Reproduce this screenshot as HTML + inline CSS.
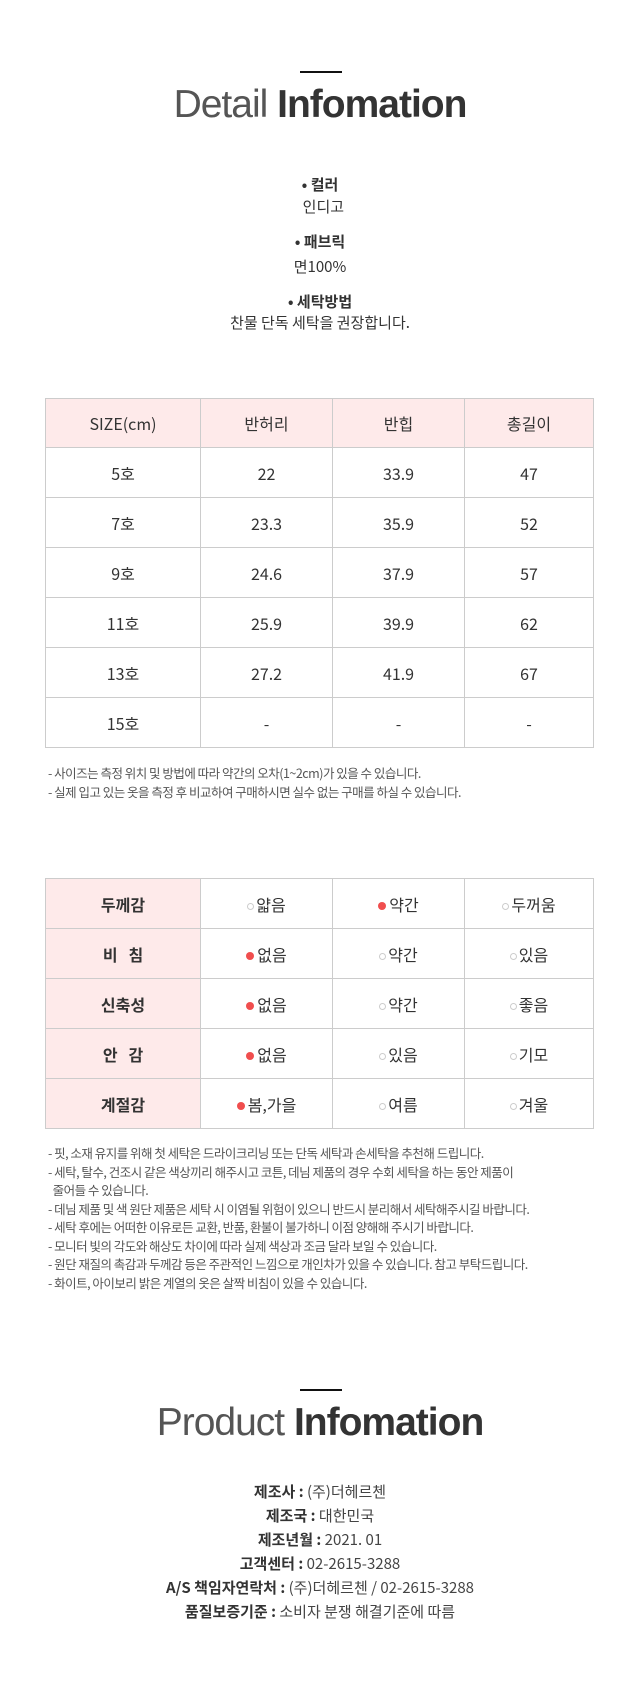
<!DOCTYPE html>
<html><head><meta charset="utf-8"><style>
*{margin:0;padding:0;box-sizing:border-box}
body{width:640px;height:1700px;background:#fff;position:relative;font-family:"Noto Sans CJK KR","Liberation Sans",sans-serif;color:#333;overflow:hidden}
.rule{position:absolute;left:300px;width:42px;height:2px;background:#111}
.title{position:absolute;left:0;width:640px;text-align:center;font-family:"Liberation Sans",sans-serif;font-size:39px;color:#333;letter-spacing:-1px;line-height:46px}
.title .l{font-weight:normal;color:#555}
.title b{font-weight:bold}
.c{position:absolute;left:0;width:640px;text-align:center;font-size:15px;line-height:20px}
table{position:absolute;left:45px;width:549px;border-collapse:collapse;font-size:16px}
td{border:1.5px solid #ccc;text-align:center;vertical-align:middle;height:50px;color:#333;line-height:20px}
.h td{background:#feeaea;height:49px}
td.k{background:#feeaea;font-weight:bold}
.d{display:inline-block;width:8px;height:8px;border-radius:50%;background:#f04e4e;margin-right:3px;vertical-align:1px}
.o{display:inline-block;width:7px;height:7px;border-radius:50%;border:1px solid #ccc;margin-right:2px;vertical-align:1px}
.n{position:absolute;left:48px;font-size:12.5px;color:#555;line-height:18.5px;letter-spacing:-0.5px;width:580px}
.p{position:absolute;left:0;width:640px;text-align:center;font-size:15px;line-height:24px;color:#444}
.p b{color:#333}
</style></head><body>
<div class="rule" style="top:71px"></div>
<div class="title" style="top:82px"><span class="l">Detail</span> <b>Infomation</b></div>
<div class="c" style="top:175px"><b>• 컬러</b></div>
<div class="c" style="top:197px">&nbsp;&nbsp;인디고</div>
<div class="c" style="top:232px"><b>• 패브릭</b></div>
<div class="c" style="top:257px">면100%</div>
<div class="c" style="top:292px"><b>• 세탁방법</b></div>
<div class="c" style="top:313px">찬물 단독 세탁을 권장합니다.</div>
<table style="top:398px">
<colgroup><col style="width:155px"><col style="width:132px"><col style="width:132px"><col></colgroup>
<tr class="h"><td>SIZE(cm)</td><td>반허리</td><td>반힙</td><td>총길이</td></tr>
<tr><td>5호</td><td>22</td><td>33.9</td><td>47</td></tr>
<tr><td>7호</td><td>23.3</td><td>35.9</td><td>52</td></tr>
<tr><td>9호</td><td>24.6</td><td>37.9</td><td>57</td></tr>
<tr><td>11호</td><td>25.9</td><td>39.9</td><td>62</td></tr>
<tr><td>13호</td><td>27.2</td><td>41.9</td><td>67</td></tr>
<tr><td>15호</td><td>-</td><td>-</td><td>-</td></tr>
</table>
<div class="n" style="top:764px">- 사이즈는 측정 위치 및 방법에 따라 약간의 오차(1~2cm)가 있을 수 있습니다.<br>- 실제 입고 있는 옷을 측정 후 비교하여 구매하시면 실수 없는 구매를 하실 수 있습니다.</div>
<table style="top:878px">
<colgroup><col style="width:155px"><col style="width:132px"><col style="width:132px"><col></colgroup>
<tr><td class="k">두께감</td><td><span class="o"></span>얇음</td><td><span class="d"></span>약간</td><td><span class="o"></span>두꺼움</td></tr>
<tr><td class="k">비 &nbsp; 침</td><td><span class="d"></span>없음</td><td><span class="o"></span>약간</td><td><span class="o"></span>있음</td></tr>
<tr><td class="k">신축성</td><td><span class="d"></span>없음</td><td><span class="o"></span>약간</td><td><span class="o"></span>좋음</td></tr>
<tr><td class="k">안 &nbsp; 감</td><td><span class="d"></span>없음</td><td><span class="o"></span>있음</td><td><span class="o"></span>기모</td></tr>
<tr><td class="k">계절감</td><td><span class="d"></span>봄,가을</td><td><span class="o"></span>여름</td><td><span class="o"></span>겨울</td></tr>
</table>
<div class="n" style="top:1144px">- 핏, 소재 유지를 위해 첫 세탁은 드라이크리닝 또는 단독 세탁과 손세탁을 추천해 드립니다.<br>- 세탁, 탈수, 건조시 같은 색상끼리 해주시고 코튼, 데님 제품의 경우 수회 세탁을 하는 동안 제품이<br>&nbsp;&nbsp;줄어들 수 있습니다.<br>- 데님 제품 및 색 원단 제품은 세탁 시 이염될 위험이 있으니 반드시 분리해서 세탁해주시길 바랍니다.<br>- 세탁 후에는 어떠한 이유로든 교환, 반품, 환불이 불가하니 이점 양해해 주시기 바랍니다.<br>- 모니터 빛의 각도와 해상도 차이에 따라 실제 색상과 조금 달라 보일 수 있습니다.<br>- 원단 재질의 촉감과 두께감 등은 주관적인 느낌으로 개인차가 있을 수 있습니다. 참고 부탁드립니다.<br>- 화이트, 아이보리 밝은 계열의 옷은 살짝 비침이 있을 수 있습니다.</div>
<div class="rule" style="top:1389px"></div>
<div class="title" style="top:1400px"><span class="l">Product</span> <b>Infomation</b></div>
<div class="p" style="top:1480px"><b>제조사 :</b> (주)더헤르첸</div>
<div class="p" style="top:1504px"><b>제조국 :</b> 대한민국</div>
<div class="p" style="top:1528px"><b>제조년월 :</b> 2021. 01</div>
<div class="p" style="top:1552px"><b>고객센터 :</b> 02-2615-3288</div>
<div class="p" style="top:1576px"><b>A/S 책임자연락처 :</b> (주)더헤르첸 / 02-2615-3288</div>
<div class="p" style="top:1600px"><b>품질보증기준 :</b> 소비자 분쟁 해결기준에 따름</div>
</body></html>
